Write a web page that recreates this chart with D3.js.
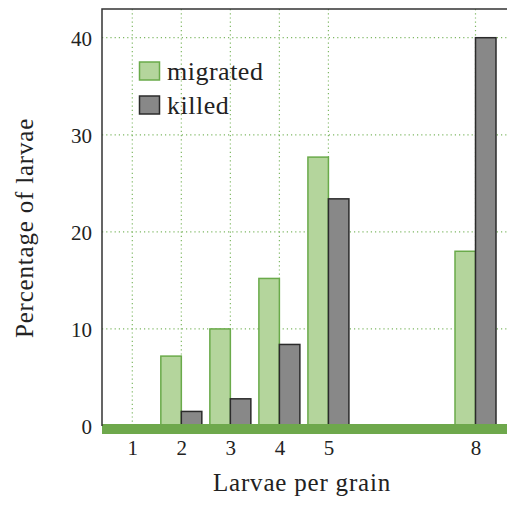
<!DOCTYPE html>
<html><head><meta charset="utf-8">
<script src="https://cdn.jsdelivr.net/npm/d3@7"></script>
<style>body{margin:0;background:#fff}svg{display:block}text{font-family:"Liberation Serif","Times New Roman",serif;fill:#222}</style>
</head><body>
<script>
const categories = [1, 2, 3, 4, 5, 8];
const migrated = [0, 7.2, 10.0, 15.2, 27.7, 18.0];
const killed = [0, 1.5, 2.8, 8.4, 23.4, 40.0];
const seriesNames = ["migrated", "killed"];
const yTicks = [0, 10, 20, 30, 40];

const W = 507, H = 506;
const pLeft = 102, pTop = 9, pRight = 507, zeroY = 426;
const svg = d3.select("body").append("svg").attr("width", W).attr("height", H);

const x = d3.scaleLinear().domain([1, 8]).range([132.3, 475.5]);
const y = d3.scaleLinear().domain([0, 40]).range([zeroY, 37.7]);
const barW = 20.5;
const gridColor = "#7fb864";

// gridlines
svg.append("g").selectAll("line").data(yTicks.filter(d => d > 0)).join("line")
  .attr("x1", pLeft).attr("x2", pRight).attr("y1", d => y(d)).attr("y2", d => y(d))
  .attr("stroke", gridColor).attr("stroke-width", 1.2).attr("stroke-dasharray", "1.2,3");
svg.append("g").selectAll("line").data(categories).join("line")
  .attr("x1", d => x(d)).attr("x2", d => x(d)).attr("y1", pTop).attr("y2", zeroY)
  .attr("stroke", gridColor).attr("stroke-width", 1.2).attr("stroke-dasharray", "1.2,3");

// bars
const g = svg.append("g");
categories.forEach((c, i) => {
  if (migrated[i] > 0) g.append("rect").attr("x", x(c) - barW).attr("y", y(migrated[i]))
    .attr("width", barW).attr("height", y(0) - y(migrated[i]))
    .attr("fill", "#b4d59c").attr("stroke", "#6aaa4a").attr("stroke-width", 1.5);
  if (killed[i] > 0) g.append("rect").attr("x", x(c)).attr("y", y(killed[i]))
    .attr("width", barW).attr("height", y(0) - y(killed[i]))
    .attr("fill", "#888888").attr("stroke", "#2b2b2b").attr("stroke-width", 1.5);
});

// zero band
svg.append("rect").attr("x", pLeft).attr("y", 424).attr("width", pRight - pLeft).attr("height", 10)
  .attr("fill", "#6ea84c");

// frame
svg.append("path").attr("d", `M${pLeft},${zeroY}V${pTop}H${pRight}`)
  .attr("fill", "none").attr("stroke", "#333").attr("stroke-width", 1.5);

// y tick labels
const yAxis = d3.axisLeft(y).tickValues(yTicks).tickSize(0).tickPadding(10);
const ya = svg.append("g").attr("transform", `translate(${pLeft},0)`).call(yAxis);
ya.select(".domain").remove();
ya.selectAll("text").attr("font-size", 21).style("font-family", '"Liberation Serif",serif').attr("fill", "#222").attr("dy", "0.35em");

// x tick labels
const xAxis = d3.axisBottom(x).tickValues(categories).tickFormat(d3.format("d")).tickSize(0).tickPadding(0);
const xa = svg.append("g").attr("transform", `translate(0,438)`).call(xAxis);
xa.select(".domain").remove();
xa.selectAll("text").attr("font-size", 21).style("font-family", '"Liberation Serif",serif').attr("fill", "#222").attr("dy", "0.8em");

// axis titles
svg.append("text").attr("x", 302).attr("y", 491).attr("text-anchor", "middle")
  .attr("font-size", 25).attr("letter-spacing", 0.8).text("Larvae per grain");
svg.append("text").attr("transform", `translate(33,228) rotate(-90)`).attr("text-anchor", "middle")
  .attr("font-size", 25).attr("letter-spacing", 0.8).text("Percentage of larvae");

// legend
const legFill = ["#b4d59c", "#888888"], legStroke = ["#6aaa4a", "#2b2b2b"];
seriesNames.forEach((n, i) => {
  const ly = 62 + i * 34;
  svg.append("rect").attr("x", 139.5).attr("y", ly).attr("width", 20).attr("height", 18)
    .attr("fill", legFill[i]).attr("stroke", legStroke[i]).attr("stroke-width", 1.5);
  svg.append("text").attr("x", 167).attr("y", ly + 17.5).attr("font-size", 26)
    .attr("letter-spacing", 0.5).text(n);
});
</script>
</body></html>
